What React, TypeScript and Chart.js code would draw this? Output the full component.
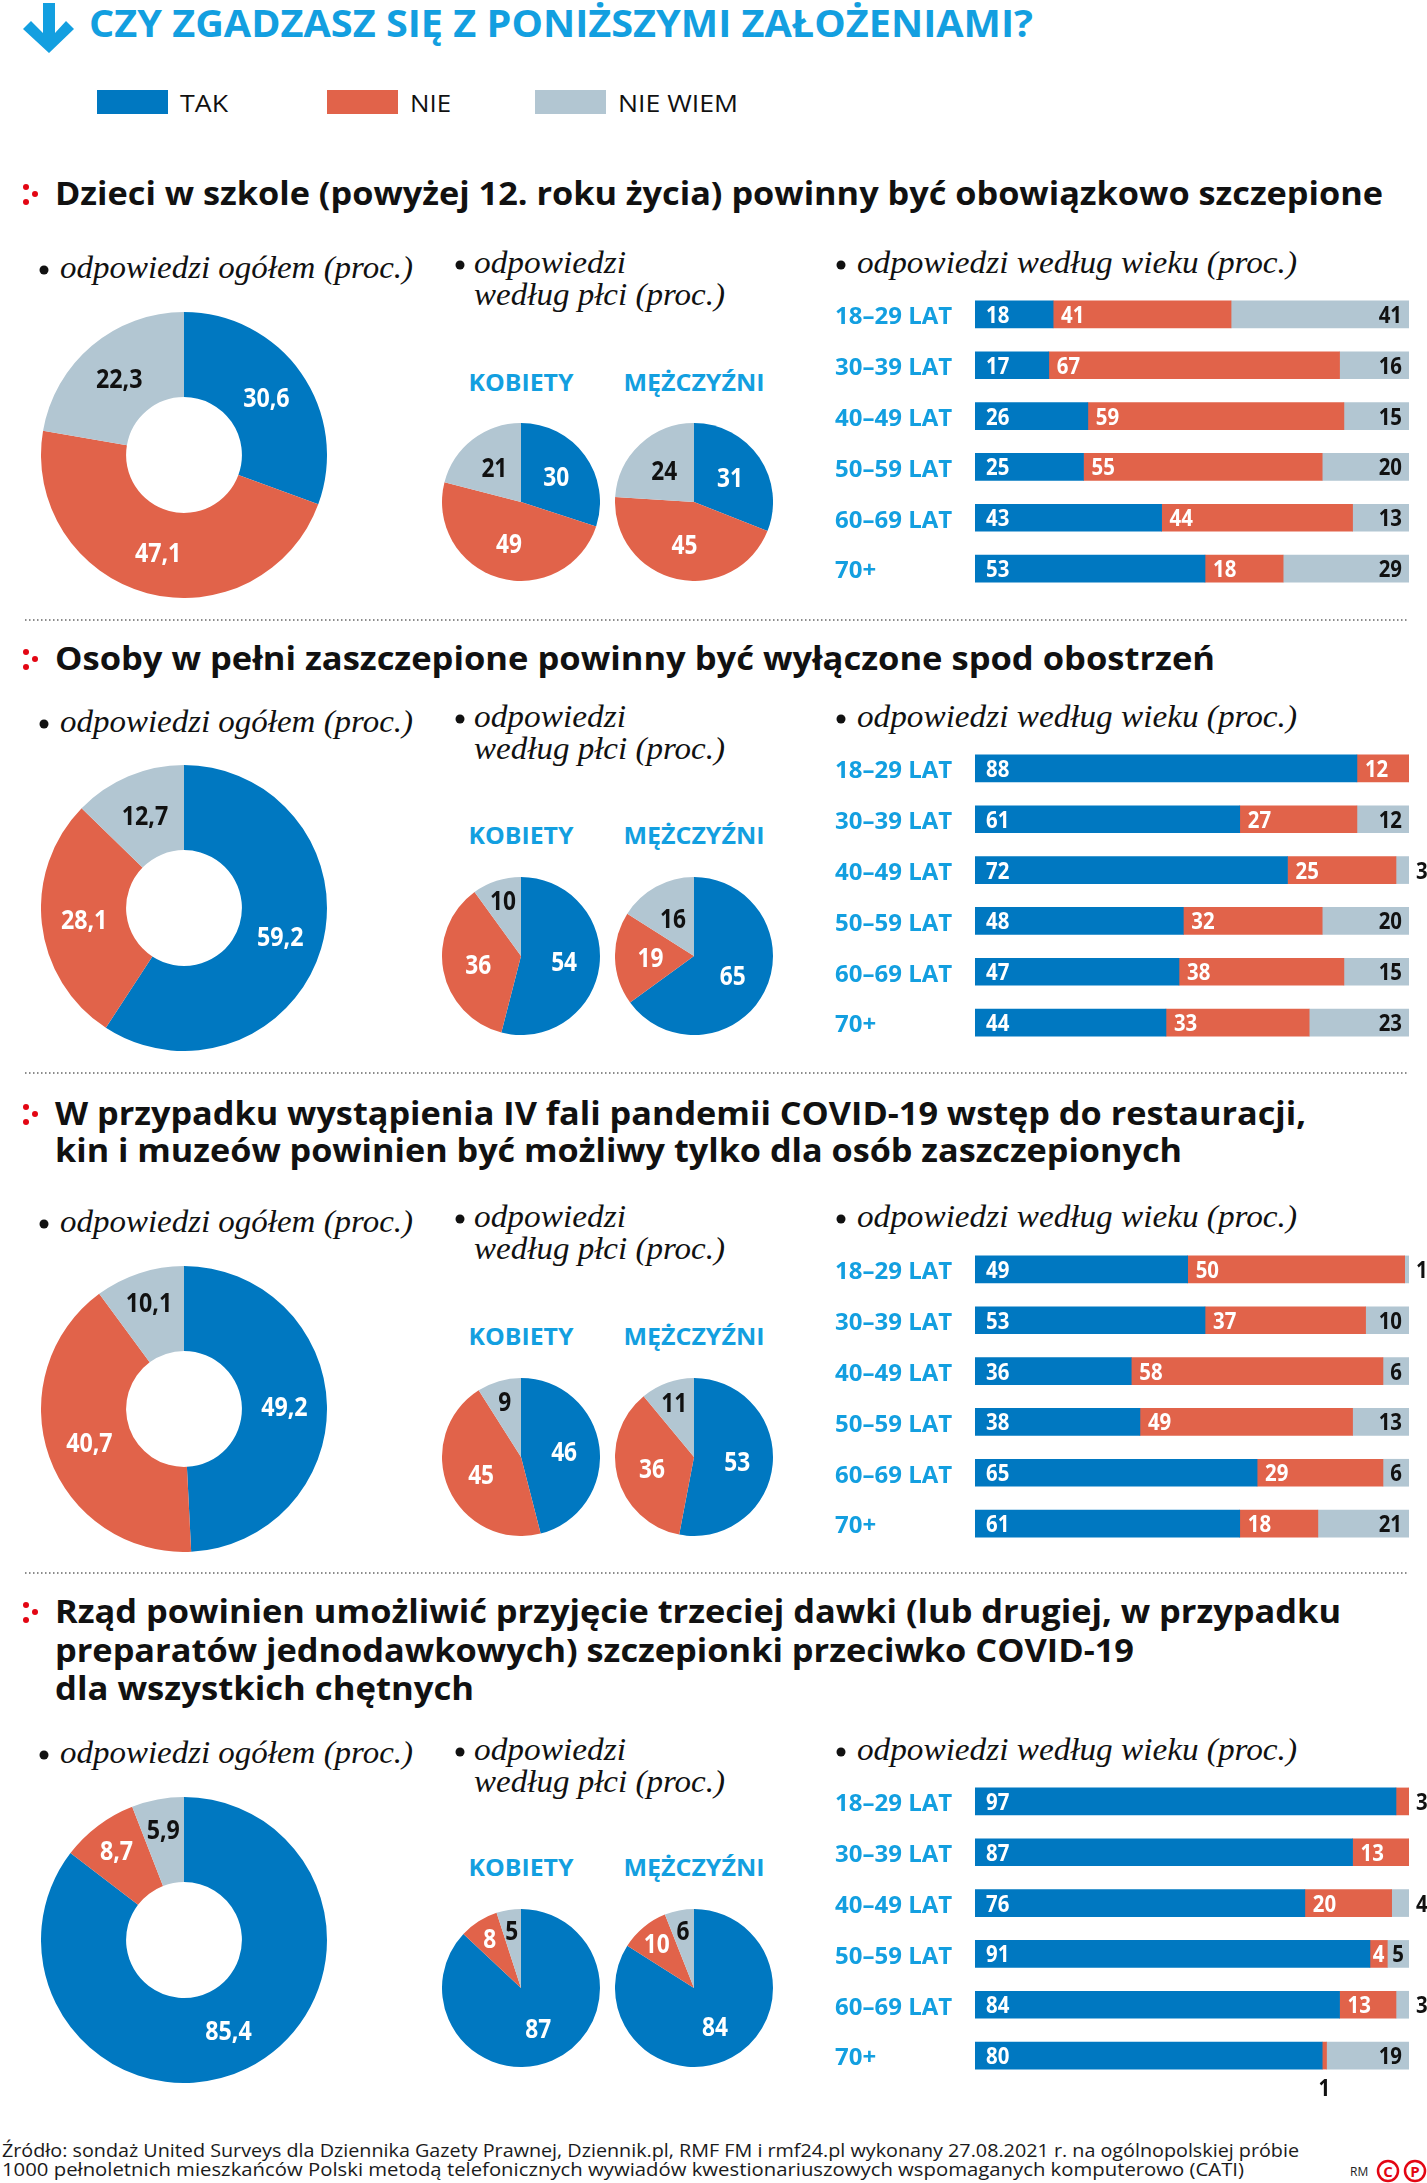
import React, { useEffect, useRef } from 'react';
import { Chart, registerables } from 'chart.js';

Chart.register(...registerables);

// ---------- data ----------
const SERIES = ['TAK', 'NIE', 'NIE WIEM'];
const SERIES_COLORS = ['#0078c1', '#e1634a', '#b2c6d2'];
const AGE_GROUPS = ['18–29 LAT', '30–39 LAT', '40–49 LAT', '50–59 LAT', '60–69 LAT', '70+'];
const GENDERS = ['KOBIETY', 'MĘŻCZYŹNI'];

const MAIN_TITLE = 'CZY ZGADZASZ SIĘ Z PONIŻSZYMI ZAŁOŻENIAMI?';
const SUB_TOTAL = 'odpowiedzi ogółem (proc.)';
const SUB_GENDER = ['odpowiedzi', 'według płci (proc.)'];
const SUB_AGE = 'odpowiedzi według wieku (proc.)';
const SOURCE = [
  'Źródło: sondaż United Surveys dla Dziennika Gazety Prawnej, Dziennik.pl, RMF FM i rmf24.pl wykonany 27.08.2021 r. na ogólnopolskiej próbie',
  '1000 pełnoletnich mieszkańców Polski metodą telefonicznych wywiadów kwestionariuszowych wspomaganych komputerowo (CATI)',
];

const Q1_TITLE = ['Dzieci w szkole (powyżej 12. roku życia) powinny być obowiązkowo szczepione'];
const Q1_TOTAL = [30.6, 47.1, 22.3];
const Q1_WOMEN = [30, 49, 21];
const Q1_MEN = [31, 45, 24];
const Q1_TAK = [18, 17, 26, 25, 43, 53];
const Q1_NIE = [41, 67, 59, 55, 44, 18];
const Q1_NIEWIEM = [41, 16, 15, 20, 13, 29];

const Q2_TITLE = ['Osoby w pełni zaszczepione powinny być wyłączone spod obostrzeń'];
const Q2_TOTAL = [59.2, 28.1, 12.7];
const Q2_WOMEN = [54, 36, 10];
const Q2_MEN = [65, 19, 16];
const Q2_TAK = [88, 61, 72, 48, 47, 44];
const Q2_NIE = [12, 27, 25, 32, 38, 33];
const Q2_NIEWIEM = [0, 12, 3, 20, 15, 23];

const Q3_TITLE = [
  'W przypadku wystąpienia IV fali pandemii COVID-19 wstęp do restauracji,',
  'kin i muzeów powinien być możliwy tylko dla osób zaszczepionych',
];
const Q3_TOTAL = [49.2, 40.7, 10.1];
const Q3_WOMEN = [46, 45, 9];
const Q3_MEN = [53, 36, 11];
const Q3_TAK = [49, 53, 36, 38, 65, 61];
const Q3_NIE = [50, 37, 58, 49, 29, 18];
const Q3_NIEWIEM = [1, 10, 6, 13, 6, 21];

const Q4_TITLE = [
  'Rząd powinien umożliwić przyjęcie trzeciej dawki (lub drugiej, w przypadku',
  'preparatów jednodawkowych) szczepionki przeciwko COVID-19',
  'dla wszystkich chętnych',
];
const Q4_TOTAL = [85.4, 8.7, 5.9];
const Q4_WOMEN = [87, 8, 5];
const Q4_MEN = [84, 10, 6];
const Q4_TAK = [97, 87, 76, 91, 84, 80];
const Q4_NIE = [3, 13, 20, 4, 13, 1];
const Q4_NIEWIEM = [0, 0, 4, 5, 3, 19];

const QUESTIONS = [
  { title: Q1_TITLE, total: Q1_TOTAL, women: Q1_WOMEN, men: Q1_MEN, tak: Q1_TAK, nie: Q1_NIE, nw: Q1_NIEWIEM },
  { title: Q2_TITLE, total: Q2_TOTAL, women: Q2_WOMEN, men: Q2_MEN, tak: Q2_TAK, nie: Q2_NIE, nw: Q2_NIEWIEM },
  { title: Q3_TITLE, total: Q3_TOTAL, women: Q3_WOMEN, men: Q3_MEN, tak: Q3_TAK, nie: Q3_NIE, nw: Q3_NIEWIEM },
  { title: Q4_TITLE, total: Q4_TOTAL, women: Q4_WOMEN, men: Q4_MEN, tak: Q4_TAK, nie: Q4_NIE, nw: Q4_NIEWIEM },
];

// ---------- layout / style ----------
const W = 1427;
const H = 2183;
const LIGHT_BLUE = '#139fe0';
const RED = '#e30613';
const SANS = "'Open Sans', 'Noto Sans', sans-serif";
const SERIF = "'Liberation Serif', 'DejaVu Serif', serif";

const SECTION_LAYOUT = [
  { title: [205], titleW: [1328], sub: 278, sub1: 273, donut: 455, pie: 502, gender: 391, bars: 314.5, sep: 620 },
  { title: [670], titleW: [1160], sub: 732, sub1: 727, donut: 908, pie: 956, gender: 844, bars: 768, sep: 1073 },
  { title: [1125, 1162], titleW: [1251, 1127], sub: 1232, sub1: 1227, donut: 1409, pie: 1457, gender: 1345, bars: 1269, sep: 1573 },
  { title: [1623, 1662, 1700], titleW: [1286, 1079, 419], sub: 1763, sub1: 1760, donut: 1940, pie: 1988, gender: 1876, bars: 1801, sep: null as number | null },
];

const DONUT_CX = 184;
const DONUT_R = 143;
const PIE_CX = [521, 694];
const PIE_R = 79;
const ROW_H = 50.8;
const BAR_LEFT = 835;
const AXIS_W = 140;
const BAR_RIGHT_PAD = 18;
const PAD_TOP = 15;
const PAD_BOTTOM = 24;

const fmt = (v: number) => String(v).replace('.', ',');

function drawNarrow(ctx: CanvasRenderingContext2D, text: string, x: number, y: number, sx: number) {
  ctx.save();
  ctx.translate(x, y);
  ctx.scale(sx, 1);
  ctx.fillText(text, 0, 0);
  ctx.restore();
}

// ---------- chart plugins ----------
function sliceLabelPlugin(fontSize: number, sx: number, kBig: number, kSmall: number) {
  return {
    id: 'sliceLabels',
    afterDatasetsDraw(chart: any) {
      const ctx = chart.ctx;
      const vals = chart.data.datasets[0].data as number[];
      const total = vals.reduce((a, b) => a + b, 0);
      const meta = chart.getDatasetMeta(0);
      ctx.save();
      ctx.font = `700 ${fontSize}px ${SANS}`;
      ctx.textAlign = 'center';
      ctx.textBaseline = 'alphabetic';
      meta.data.forEach((arc: any, i: number) => {
        const p = arc.getProps(['x', 'y', 'startAngle', 'endAngle', 'innerRadius', 'outerRadius'], true);
        const frac = vals[i] / total;
        const mid = (p.startAngle + p.endAngle) / 2;
        const k = frac < 0.12 ? kSmall : kBig;
        const r = p.innerRadius + (p.outerRadius - p.innerRadius) * k;
        ctx.fillStyle = i === 2 ? '#111' : '#fff';
        drawNarrow(ctx, fmt(vals[i]), p.x + Math.cos(mid) * r, p.y + Math.sin(mid) * r + fontSize * 0.36, sx);
      });
      ctx.restore();
    },
  };
}

const BAR_FS = 24;
const BAR_SX = 0.85;

const barLabelPlugin = {
  id: 'barLabels',
  afterDatasetsDraw(chart: any) {
    const ctx = chart.ctx;
    const cap = BAR_FS * 0.357;
    ctx.save();
    ctx.font = `700 ${BAR_FS}px ${SANS}`;
    ctx.textBaseline = 'alphabetic';
    const n = chart.data.labels.length;
    for (let j = 0; j < n; j++) {
      const vals = chart.data.datasets.map((d: any) => d.data[j] as number);
      chart.data.datasets.forEach((ds: any, i: number) => {
        const v = vals[i];
        if (!v) return;
        const bar = chart.getDatasetMeta(i).data[j];
        const p = bar.getProps(['x', 'base', 'y', 'height'], true);
        const left = Math.min(p.x, p.base);
        const right = Math.max(p.x, p.base);
        const segW = right - left;
        const txt = String(v);
        const tw = ctx.measureText(txt).width * BAR_SX;
        const isLast = vals.slice(i + 1).every((u: number) => !u);
        let tx = left + 11;
        let ty = p.y + cap;
        let align: CanvasTextAlign = 'left';
        let color = '#fff';
        if (i === 1) {
          if (v >= 4) {
            if (segW < tw + 16) {
              tx = (left + right) / 2;
              align = 'center';
            } else {
              tx = left + 8;
            }
          } else if (isLast) {
            tx = right + 7;
            color = '#111';
          } else {
            tx = (left + right) / 2;
            align = 'center';
            ty = p.y + p.height / 2 + 18 + cap;
            color = '#111';
          }
        } else if (i === 2) {
          color = '#111';
          if (v >= 5) {
            if (segW < tw + 16) {
              tx = (left + right) / 2;
              align = 'center';
            } else {
              tx = right - 7;
              align = 'right';
            }
          } else {
            tx = right + 7;
          }
        }
        ctx.fillStyle = color;
        ctx.textAlign = align;
        drawNarrow(ctx, txt, tx, ty, BAR_SX);
      });
    }
    ctx.restore();
  },
};

// ---------- components ----------
function ChartBox({ left, top, width, height, make }: { left: number; top: number; width: number; height: number; make: () => any }) {
  const ref = useRef<HTMLCanvasElement>(null);
  useEffect(() => {
    const chart = new Chart(ref.current as HTMLCanvasElement, make());
    return () => chart.destroy();
  }, []);
  return (
    <canvas
      ref={ref}
      width={width}
      height={height}
      style={{ position: 'absolute', left, top, width, height }}
    />
  );
}

function arcConfig(values: number[], type: 'doughnut' | 'pie', fontSize: number, sx: number, kBig: number, kSmall: number) {
  return () => ({
    type,
    data: {
      labels: SERIES,
      datasets: [{ data: values, backgroundColor: SERIES_COLORS, borderWidth: 0, hoverOffset: 0 }],
    },
    options: {
      responsive: false,
      animation: false,
      events: [],
      cutout: type === 'doughnut' ? '40.5%' : 0,
      layout: { padding: 0 },
      plugins: { legend: { display: false }, tooltip: { enabled: false } },
    },
    plugins: [sliceLabelPlugin(fontSize, sx, kBig, kSmall)],
  });
}

function barConfig(tak: number[], nie: number[], nw: number[]) {
  const series = [tak, nie, nw];
  return () => ({
    type: 'bar',
    data: {
      labels: AGE_GROUPS,
      datasets: series.map((d, i) => ({
        label: SERIES[i],
        data: d,
        backgroundColor: SERIES_COLORS[i],
        borderWidth: 0,
        barThickness: 27,
      })),
    },
    options: {
      indexAxis: 'y',
      responsive: false,
      animation: false,
      events: [],
      layout: { padding: { top: PAD_TOP, bottom: PAD_BOTTOM, left: 0, right: BAR_RIGHT_PAD } },
      plugins: { legend: { display: false }, tooltip: { enabled: false } },
      scales: {
        x: { stacked: true, min: 0, max: 100, display: false },
        y: {
          stacked: true,
          grid: { display: false },
          border: { display: false },
          ticks: {
            autoSkip: false,
            crossAlign: 'far',
            padding: 0,
            labelOffset: 3,
            color: LIGHT_BLUE,
            font: { family: SANS, weight: 'bold', size: 24 },
          },
          afterFit(scale: any) {
            scale.width = AXIS_W;
          },
        },
      },
    },
    plugins: [barLabelPlugin],
  });
}

function Txt(props: {
  x: number; y: number; w?: number; size: number; weight?: number; italic?: boolean;
  family?: string; fill?: string; anchor?: 'start' | 'middle' | 'end'; children: React.ReactNode;
}) {
  const { x, y, w, size, weight = 400, italic = false, family = SANS, fill = '#111', anchor = 'start', children } = props;
  const extra: any = w ? { textLength: w, lengthAdjust: 'spacingAndGlyphs' } : {};
  return (
    <text
      x={x}
      y={y}
      fontSize={size}
      fontWeight={weight}
      fontStyle={italic ? 'italic' : 'normal'}
      fontFamily={family}
      fill={fill}
      textAnchor={anchor}
      {...extra}
    >
      {children}
    </text>
  );
}

function Overlay() {
  const legendX = [97, 327, 535];
  const legendTextW = [48, 41, 120];
  return (
    <svg width={W} height={H} style={{ position: 'absolute', left: 0, top: 0 }}>
      {/* arrow */}
      <path
        d="M43 3 L55 3 L55 33 L66 21 L74 29 L49 53 L23 29 L31 21 L43 33 Z"
        fill={LIGHT_BLUE}
      />
      <Txt x={89} y={37} w={944} size={38} weight={700} fill={LIGHT_BLUE}>{MAIN_TITLE}</Txt>

      {/* legend */}
      {SERIES.map((s, i) => (
        <g key={s}>
          <rect x={legendX[i]} y={90} width={71} height={24} fill={SERIES_COLORS[i]} />
          <Txt x={legendX[i] + 83} y={112} w={legendTextW[i]} size={24} weight={400}>{s}</Txt>
        </g>
      ))}

      {SECTION_LAYOUT.map((L, si) => {
        const q = QUESTIONS[si];
        const t0 = L.title[0];
        return (
          <g key={si}>
            <circle cx={26} cy={t0 - 18} r={3} fill={RED} />
            <circle cx={35} cy={t0 - 11} r={3} fill={RED} />
            <circle cx={26} cy={t0 - 3} r={3} fill={RED} />
            {q.title.map((line, li) => (
              <Txt key={li} x={55} y={L.title[li]} w={L.titleW[li]} size={32} weight={700}>{line}</Txt>
            ))}

            <circle cx={44} cy={L.sub - 8} r={4.5} fill="#111" />
            <Txt x={60} y={L.sub} w={353} size={32} italic family={SERIF}>{SUB_TOTAL}</Txt>

            <circle cx={460} cy={L.sub1 - 8} r={4.5} fill="#111" />
            <Txt x={474} y={L.sub1} w={152} size={32} italic family={SERIF}>{SUB_GENDER[0]}</Txt>
            <Txt x={474} y={L.sub1 + 32} w={251} size={32} italic family={SERIF}>{SUB_GENDER[1]}</Txt>

            <circle cx={841} cy={L.sub1 - 8} r={4.5} fill="#111" />
            <Txt x={857} y={L.sub1} w={440} size={32} italic family={SERIF}>{SUB_AGE}</Txt>

            <Txt x={PIE_CX[0]} y={L.gender} w={105} size={24} weight={700} fill={LIGHT_BLUE} anchor="middle">{GENDERS[0]}</Txt>
            <Txt x={PIE_CX[1]} y={L.gender} w={141} size={24} weight={700} fill={LIGHT_BLUE} anchor="middle">{GENDERS[1]}</Txt>

            {L.sep !== null && (
              <line x1={25} x2={1408} y1={L.sep} y2={L.sep} stroke="#8c8c8c" strokeWidth={2} strokeDasharray="1.5 2.5" />
            )}
          </g>
        );
      })}

      {/* footer */}
      <Txt x={2} y={2157} w={1297} size={18} fill="#1a1a1a">{SOURCE[0]}</Txt>
      <Txt x={2} y={2176} w={1242} size={18} fill="#1a1a1a">{SOURCE[1]}</Txt>
      <Txt x={1350} y={2176} size={12} fill="#222">RM</Txt>
      <circle cx={1388} cy={2171} r={10} fill="none" stroke={RED} strokeWidth={2.5} />
      <Txt x={1388} y={2177} size={15} weight={700} fill={RED} anchor="middle">C</Txt>
      <circle cx={1415} cy={2171} r={10} fill="none" stroke={RED} strokeWidth={2.5} />
      <Txt x={1415} y={2177} size={15} weight={700} fill={RED} anchor="middle">P</Txt>
    </svg>
  );
}

export default function App() {
  return (
    <div style={{ position: 'absolute', left: 0, top: 0, width: W, height: H, background: '#fff', overflow: 'hidden' }}>
      <Overlay />
      {SECTION_LAYOUT.map((L, si) => {
        const q = QUESTIONS[si];
        const barTop = L.bars - ROW_H / 2 - PAD_TOP;
        const barH = Math.round(ROW_H * 6 + PAD_TOP + PAD_BOTTOM);
        return (
          <React.Fragment key={si}>
            <ChartBox
              left={DONUT_CX - DONUT_R}
              top={L.donut - DONUT_R}
              width={DONUT_R * 2}
              height={DONUT_R * 2}
              make={arcConfig(q.total, 'doughnut', 27, 0.86, 0.5, 0.64)}
            />
            <ChartBox
              left={PIE_CX[0] - PIE_R}
              top={L.pie - PIE_R}
              width={PIE_R * 2}
              height={PIE_R * 2}
              make={arcConfig(q.women, 'pie', 27, 0.84, 0.55, 0.74)}
            />
            <ChartBox
              left={PIE_CX[1] - PIE_R}
              top={L.pie - PIE_R}
              width={PIE_R * 2}
              height={PIE_R * 2}
              make={arcConfig(q.men, 'pie', 27, 0.84, 0.55, 0.74)}
            />
            <ChartBox
              left={BAR_LEFT}
              top={barTop}
              width={W - BAR_LEFT}
              height={barH}
              make={barConfig(q.tak, q.nie, q.nw)}
            />
          </React.Fragment>
        );
      })}
    </div>
  );
}
